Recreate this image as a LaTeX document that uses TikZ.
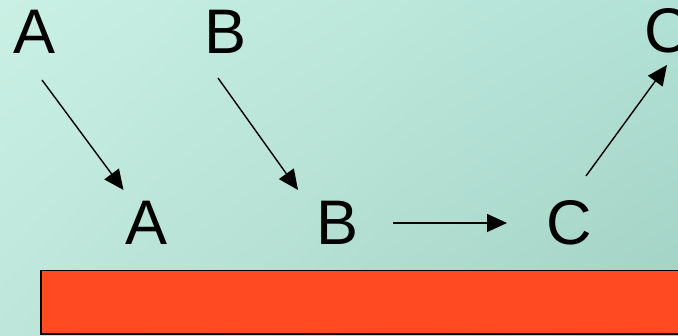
\documentclass[tikz,border=0pt]{standalone}
\usepackage{fontspec}
\setmainfont{Liberation Sans}
\usetikzlibrary{arrows.meta,calc,shadings}
\definecolor{bgUL}{HTML}{CAF0E4}
\definecolor{bgUR}{HTML}{B2E1D5}
\definecolor{bgLL}{HTML}{BEE6DA}
\definecolor{bgLR}{HTML}{A1D1C3}
\definecolor{barred}{HTML}{FF4A22}
\tikzset{
  letter/.style={inner sep=0pt, font=\fontsize{63}{63}\selectfont},
  arr/.style={line width=1.4pt, -{Triangle[length=20pt,width=18pt]}},
  bar/.style={draw=black, line width=1.5pt, fill=barred}
}
\begin{document}
\begin{tikzpicture}[x=1pt,y=1pt]
  \useasboundingbox (0,0) rectangle (678,336);
  \clip (0,0) rectangle (678,336);
  % background
  \shade[upper left=bgUL, upper right=bgUR, lower left=bgLL, lower right=bgLR]
    (0,0) rectangle (678,336);
  % top row
  \node[letter] (ta) at (35,304) {A};
  \node[letter] (tb) at (226,304) {B};
  \node[letter] (tc) at (667,305) {C};
  % bottom row
  \node[letter] (ba) at (146.5,113) {A};
  \node[letter] (bb) at (338,113) {B};
  \node[letter] (bc) at (569,113) {C};
  % connectors
  \draw[arr] ($(ta)+(7,-48)$) -- ($(ba)+(-23,33)$);
  \draw[arr] ($(tb)+(-8,-46)$) -- ($(bb)+(-40,33)$);
  \draw[arr] ($(bb)+(55,0)$) -- ($(bc)+(-62,0)$);
  \draw[arr] ($(bc)+(17,47)$) -- ($(tc)+(0,-34)$);
  % bar
  \draw[bar] (41,2) rectangle (700,65.5);
\end{tikzpicture}
\end{document}
